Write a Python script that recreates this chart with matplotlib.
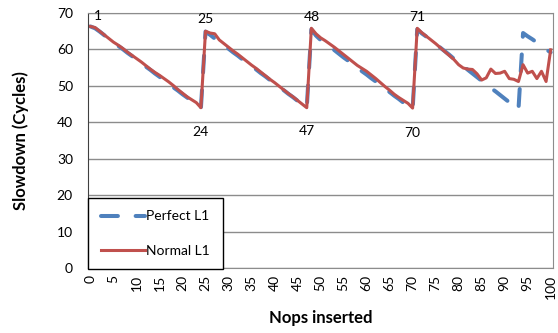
import matplotlib
matplotlib.use("Agg")
import matplotlib.pyplot as plt

plt.rcParams['font.family'] = ['Lato', 'DejaVu Sans']

# nops inserted: 0..100
nops = list(range(0, 101))

perfect_l1 = [
    66.3, 65.8, 64.9, 63.9, 62.9, 62.0, 61.0, 60.1, 59.1, 58.2, 57.2, 56.3, 55.3,
    54.4, 53.4, 52.5, 51.5, 50.6, 49.6, 48.7, 47.7, 46.8, 45.8, 44.9, 43.9,
    64.9, 64.0, 63.0, 62.1, 61.1, 60.2, 59.2, 58.3, 57.3, 56.4, 55.4, 54.5,
    53.5, 52.6, 51.6, 50.7, 49.7, 48.8, 47.8, 46.9, 45.9, 45.0, 44.0,
    65.5, 63.8, 62.6, 61.7, 60.7, 59.8, 58.8, 57.8, 56.9, 55.9, 55.0, 54.0,
    53.1, 52.1, 51.2, 50.2, 49.2, 48.3, 47.3, 46.4, 45.4, 44.5, 43.5,
    65.5, 64.4, 63.5, 62.5, 61.5, 60.5, 59.5, 58.5, 57.4, 56.3, 55.4, 54.4,
    53.4, 52.4, 51.4, 50.4, 49.4, 48.5, 47.5, 46.5, 45.5, 44.5, 43.5,
    64.5, 63.6, 62.8, 61.9, 61.0, 60.0, 59.2,
]

normal_l1 = [
    66.3, 66.0, 65.0, 64.0, 63.0, 62.0, 61.2, 60.3, 59.3, 58.4, 57.5, 56.6, 55.6,
    54.6, 53.7, 52.9, 52.0, 51.1, 50.1, 49.0, 48.0, 47.0, 46.2, 45.4, 44.0,
    65.0, 64.5, 64.3, 62.6, 61.6, 60.6, 59.6, 58.7, 57.7, 56.7, 55.7, 54.8,
    53.8, 52.8, 51.8, 50.9, 49.9, 48.9, 47.9, 47.0, 46.0, 45.0, 44.0,
    65.8, 64.3, 63.2, 62.4, 61.5, 60.6, 59.6, 58.6, 57.6, 56.6, 55.6, 54.8,
    54.0, 53.0, 52.0, 50.9, 49.8, 48.8, 47.7, 46.8, 46.0, 45.2, 43.9,
    65.8, 64.6, 63.6, 62.6, 61.6, 60.5, 59.4, 58.3, 57.2, 55.8,
    54.9, 54.6, 54.5, 53.3, 51.6, 52.2, 54.6, 53.4, 53.5, 54.0,
    52.0, 51.8, 51.2, 55.8, 53.5, 54.0, 52.0, 54.0, 51.2, 59.9,
]

# points that carry a data label
peak_points = [1, 25, 48, 71]
trough_points = [24, 47, 70]

x_ticks = list(range(0, 101, 5))
y_ticks = list(range(0, 71, 10))

fig = plt.figure(figsize=(5.58, 3.33), dpi=100)
ax = fig.add_axes([0.158, 0.195, 0.833, 0.766])

grid_col = "#8c8c8c"
ax.set_axisbelow(True)
ax.yaxis.grid(True, color=grid_col, linewidth=1.0)

ax.plot(nops, perfect_l1, color="#4f81bd", linewidth=2.9,
        linestyle=(0, (4.2, 4.4)), dash_capstyle="round", label="Perfect L1")
ax.plot(nops, normal_l1, color="#c0504d", linewidth=2.2,
        solid_joinstyle="round", label="Normal L1")

for p in peak_points:
    ax.annotate(str(p), (nops[p], perfect_l1[p]), xytext=(2 if p == 1 else 0, 9),
                textcoords="offset points", ha="center", va="center", fontsize=10)
for t in trough_points:
    ax.annotate(str(t), (nops[t], perfect_l1[t]), xytext=(0, -17),
                textcoords="offset points", ha="center", va="center", fontsize=10)

ax.set_xlim(-0.5, 100.5)
ax.set_ylim(0, 70)
ax.set_xticks(x_ticks)
ax.set_xticklabels([str(v) for v in x_ticks], rotation=90, fontsize=10)
ax.set_yticks(y_ticks)
ax.set_yticklabels([str(v) for v in y_ticks], fontsize=10)
ax.tick_params(axis="x", length=0, pad=5)
ax.tick_params(axis="y", length=0, pad=11)

for side in ["top", "right", "bottom"]:
    ax.spines[side].set_color(grid_col)
ax.spines["left"].set_color("#404040")

ax.set_xlabel("Nops inserted", fontsize=12, fontweight="bold", labelpad=8)
ax.set_ylabel("Slowdown (Cycles)", fontsize=12, fontweight="bold", labelpad=20)

leg = ax.legend(loc="lower left", bbox_to_anchor=(0, -0.004), borderaxespad=0,
                fancybox=False, framealpha=1, edgecolor="black", fontsize=10,
                handlelength=3.2, handletextpad=0.1, labelspacing=1.6,
                borderpad=0.9)
leg.get_frame().set_linewidth(1.0)

plt.savefig("out.png", dpi=100)
